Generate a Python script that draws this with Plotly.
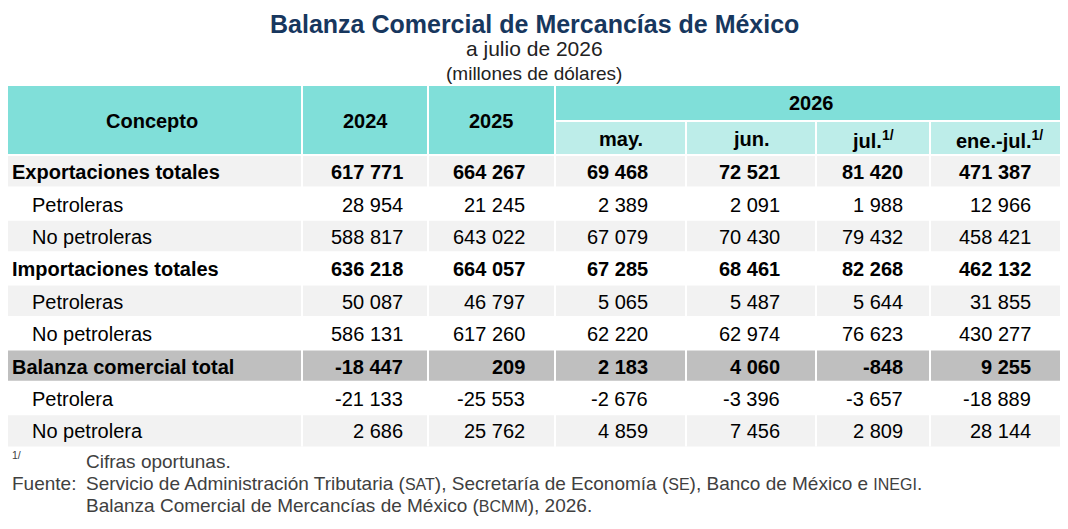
import plotly.graph_objects as go

concepts = ["Exportaciones totales", "Petroleras", "No petroleras",
            "Importaciones totales", "Petroleras", "No petroleras",
            "Balanza comercial total", "Petrolera", "No petrolera"]
bold_rows = [0, 3, 6]
col_2024 = [617771, 28954, 588817, 636218, 50087, 586131, -18447, -21133, 2686]
col_2025 = [664267, 21245, 643022, 664057, 46797, 617260, 209, -25553, 25762]
col_may = [69468, 2389, 67079, 67285, 5065, 62220, 2183, -2676, 4859]
col_jun = [72521, 2091, 70430, 68461, 5487, 62974, 4060, -3396, 7456]
col_jul = [81420, 1988, 79432, 82268, 5644, 76623, -848, -3657, 2809]
col_enejul = [471387, 12966, 458421, 462132, 31855, 430277, 9255, -18889, 28144]
columns = [col_2024, col_2025, col_may, col_jun, col_jul, col_enejul]

FONT = "Liberation Sans Narrow, Arial Narrow, Liberation Sans, Arial"
edges = [2, 302, 428, 555, 686, 816, 930, 1068]
row_top = 155
row_h = 32.4
row_bg = ["#f2f2f2", "#ffffff", "#f2f2f2", "#ffffff", "#f2f2f2", "#ffffff",
          "#bfbfbf", "#ffffff", "#f2f2f2"]
TEAL = "#80dfd9"
LTEAL = "#bdede9"

def fmt(v):
    s = f"{abs(v):,}".replace(",", " ")
    return ("-" if v < 0 else "") + s

fig = go.Figure()
shapes = []
ann = []

shapes.append(dict(type="rect", x0=edges[0], x1=edges[-1], y0=86, y1=155, fillcolor=TEAL, line_width=0, layer="below"))
shapes.append(dict(type="rect", x0=edges[3], x1=edges[-1], y0=121, y1=155, fillcolor=LTEAL, line_width=0, layer="below"))
for i, c in enumerate(row_bg):
    y0 = row_top + i * row_h
    shapes.append(dict(type="rect", x0=edges[0], x1=edges[-1], y0=y0, y1=y0 + row_h, fillcolor=c, line_width=0, layer="below"))
    shapes.append(dict(type="line", x0=edges[0], x1=edges[-1], y0=y0, y1=y0, line=dict(color="white", width=2)))
shapes.append(dict(type="line", x0=edges[3], x1=edges[-1], y0=121, y1=121, line=dict(color="white", width=2)))
for k, x in enumerate(edges[1:-1]):
    y0 = 121 if k >= 3 else 86
    shapes.append(dict(type="line", x0=x, x1=x, y0=y0, y1=row_top + 9 * row_h, line=dict(color="white", width=2)))
shapes.append(dict(type="line", x0=edges[3], x1=edges[3], y0=86, y1=row_top + 9 * row_h, line=dict(color="white", width=2)))

def A(x, y, t, size=20, anchor="center", color="black", bold=False):
    if bold:
        t = "<b>" + t + "</b>"
    ann.append(dict(x=x, y=y, text=t, showarrow=False, xanchor=anchor, yanchor="middle",
                    font=dict(family=FONT, size=size, color=color)))

A(534, 24, "Balanza Comercial de Mercancías de México", size=25, color="#17375e", bold=True)
A(534, 48, "a julio de 2026", size=21, color="#222")
A(534, 73, "(millones de dólares)", size=19, color="#222")

A(152, 121, "Concepto", bold=True)
A(365, 121, "2024", bold=True)
A(491, 121, "2025", bold=True)
A(811, 103, "2026", bold=True)
hdr = ["may.", "jun.", "jul.<sup>1/</sup>", "ene.-jul.<sup>1/</sup>"]
hx = [621, 751, 873, 999]
for t, x in zip(hdr, hx):
    A(x, 139, t, bold=True)

right = [405, 527, 650, 782, 905, 1033]
for i, name in enumerate(concepts):
    yc = row_top + i * row_h + row_h / 2 + 1
    b = i in bold_rows
    A(10 if b else 30, yc, name, anchor="left", bold=b)
    for col, xr in zip(columns, right):
        A(xr, yc, fmt(col[i]), anchor="right", bold=b)

G = "#404040"
A(10, 455, "<sup>1/</sup>", size=15, anchor="left", color=G)
A(84, 461, "Cifras oportunas.", size=19, anchor="left", color=G)
A(10, 483, "Fuente:", size=19, anchor="left", color=G)
sm = lambda s: f"<span style='font-size:16px'>{s}</span>"
A(84, 483, f"Servicio de Administración Tributaria ({sm('SAT')}), Secretaría de Economía ({sm('SE')}), Banco de México e {sm('INEGI')}.",
  size=19, anchor="left", color=G)
A(84, 505, f"Balanza Comercial de Mercancías de México ({sm('BCMM')}), 2026.", size=19, anchor="left", color=G)

# page body has an 8px margin: shift the axis ranges so content lands at reference pixels
fig.update_layout(
    width=1068, height=529, margin=dict(l=0, r=0, t=0, b=0),
    paper_bgcolor="white", plot_bgcolor="white",
    xaxis=dict(range=[8, 1076], visible=False, fixedrange=True),
    yaxis=dict(range=[537, 8], visible=False, fixedrange=True),
    shapes=shapes, annotations=ann, showlegend=False,
)
fig.write_html("out.html")
